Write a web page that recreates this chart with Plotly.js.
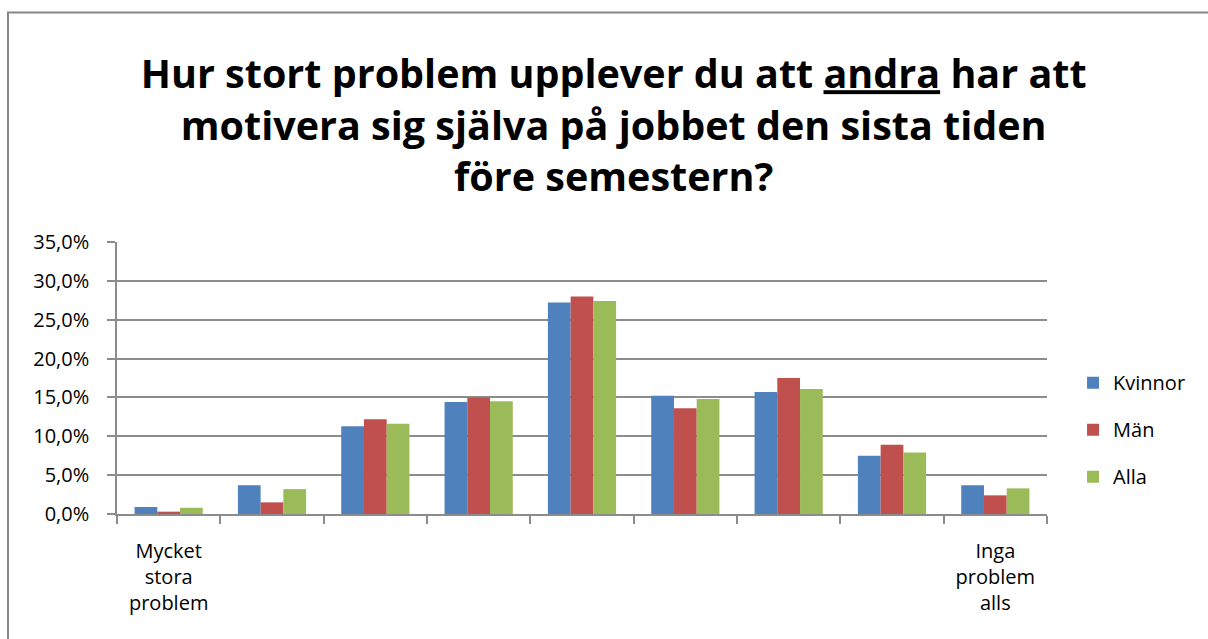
<!DOCTYPE html>
<html>
<head>
<meta charset="utf-8">
<script src="https://cdn.plot.ly/plotly-3.0.1.min.js"></script>
<style>
  html, body { margin: 0; padding: 0; background: #fff; }
  #chart { width: 1208px; height: 639px; }
</style>
</head>
<body>
<div id="chart"></div>
<script>
// answer scale 1..9, only the two ends are labelled
const steps = ["1", "2", "3", "4", "5", "6", "7", "8", "9"];
const stepLabels = ["Mycket<br>stora<br>problem", "", "", "", "", "", "", "", "Inga<br>problem<br>alls"];

// share of answers in percent
const kvinnor = [0.9, 3.7, 11.3, 14.4, 27.2, 15.2, 15.7, 7.5, 3.7];
const man = [0.3, 1.5, 12.2, 15.0, 28.0, 13.6, 17.5, 8.9, 2.4];
const alla = [0.8, 3.2, 11.6, 14.5, 27.4, 14.8, 16.1, 7.9, 3.3];

const seriesNames = ["Kvinnor", "Män", "Alla"];
const seriesColors = ["#4F81BD", "#C0504D", "#9BBB59"];

const FONT = "Open Sans, Liberation Sans, sans-serif";
const GRID = "#8c8c8c";

const traces = [kvinnor, man, alla].map((vals, i) => ({
  type: "bar",
  name: seriesNames[i],
  legendgroup: seriesNames[i],
  x: steps,
  y: vals,
  marker: { color: seriesColors[i], line: { width: 0 } },
  hoverinfo: "y+name",
}));

const layout = {
  width: 1208,
  height: 639,
  paper_bgcolor: "#fff",
  plot_bgcolor: "#fff",
  separators: ", ",
  font: { family: FONT, size: 20, color: "#000" },
  margin: { l: 117, r: 161, t: 242, b: 125, autoexpand: false },
  title: {
    text: "<b>Hur stort problem upplever du att <u>andra</u> har att<br>motivera sig själva på jobbet den sista tiden<br>före semestern?</b>",
    font: { family: FONT, size: 39.5, color: "#000" },
    x: 0.508,
    xanchor: "center",
    y: 0.862,
    yanchor: "middle",
  },
  barmode: "group",
  bargap: 0.34,
  bargroupgap: 0,
  xaxis: {
    type: "category",
    tickmode: "array",
    tickvals: steps,
    ticktext: stepLabels,
    tickson: "boundaries",
    ticks: "outside",
    ticklen: 8,
    tickcolor: GRID,
    tickwidth: 1.5,
    showline: true,
    linecolor: GRID,
    linewidth: 1.5,
    showgrid: false,
    ticklabelstandoff: 18,
    tickfont: { family: FONT, size: 20, color: "#000" },
  },
  yaxis: {
    range: [0, 35],
    dtick: 5,
    tickformat: ".1f",
    ticksuffix: "%",
    ticks: "outside",
    ticklen: 8,
    tickcolor: GRID,
    tickwidth: 1.5,
    showline: true,
    linecolor: GRID,
    linewidth: 1.5,
    showgrid: true,
    gridcolor: GRID,
    gridwidth: 1.5,
    zeroline: false,
    ticklabelstandoff: 14,
    tickfont: { family: FONT, size: 20, color: "#000" },
  },
  legend: {
    x: 1.028,
    xanchor: "left",
    y: 0.31,
    yanchor: "middle",
    traceorder: "grouped",
    tracegroupgap: 18,
    font: { family: FONT, size: 20, color: "#000" },
    bgcolor: "rgba(0,0,0,0)",
  },
  shapes: [{
    type: "rect",
    xref: "paper",
    yref: "paper",
    x0: -0.1172,
    x1: 1.2,
    y0: -0.55,
    y1: 1.8438,
    line: { color: "#878787", width: 2 },
    fillcolor: "rgba(0,0,0,0)",
    layer: "below",
  }],
};

Plotly.newPlot("chart", traces, layout, { displayModeBar: false, responsive: false });
</script>
</body>
</html>
